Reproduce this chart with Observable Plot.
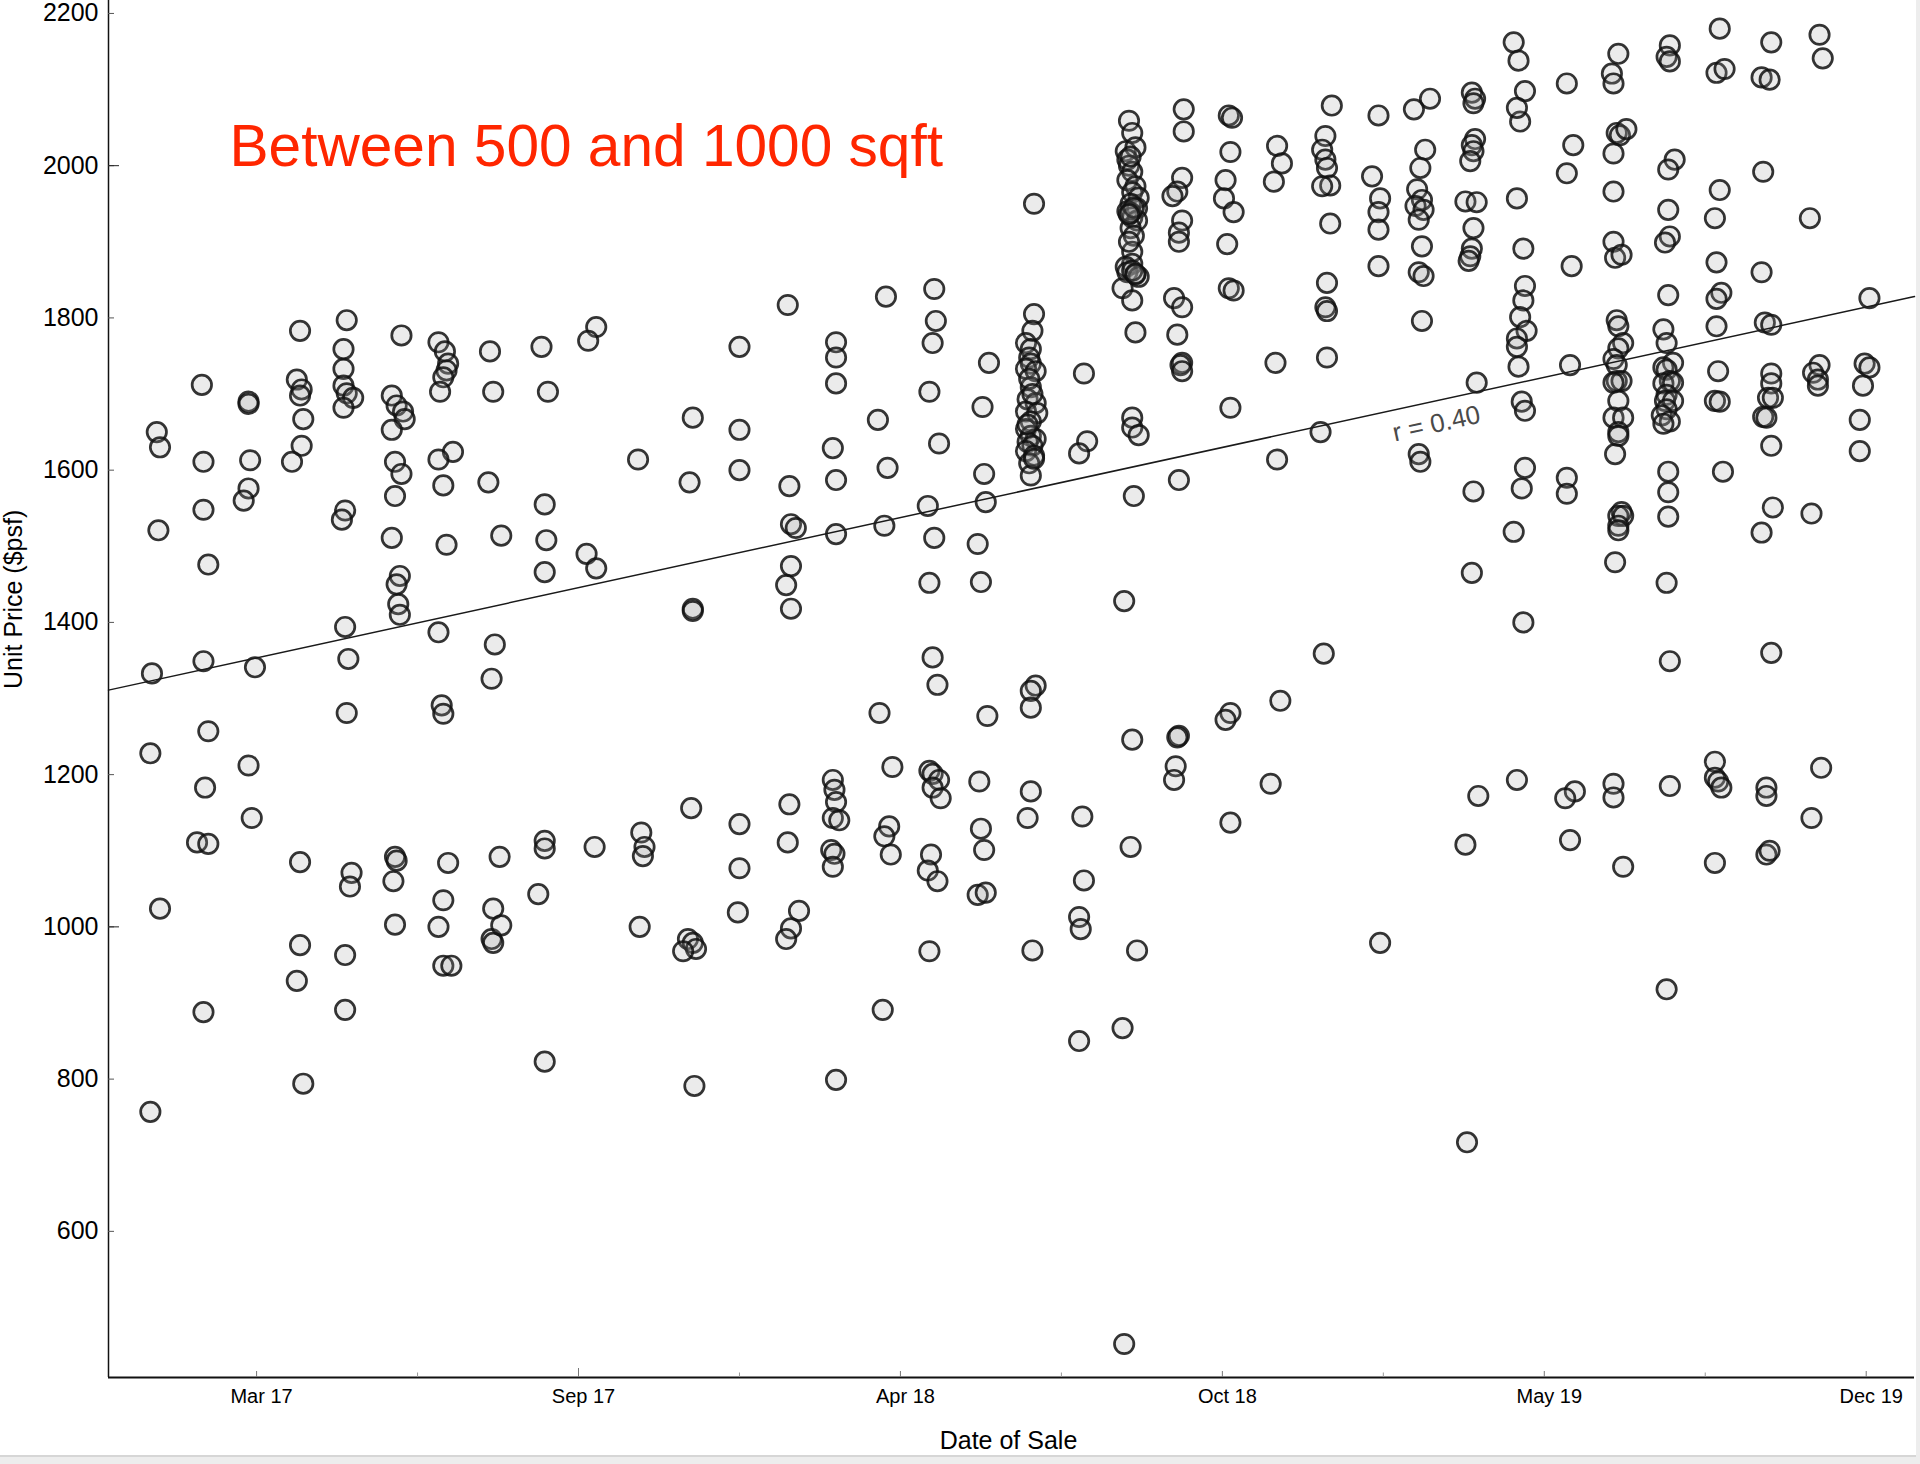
<!DOCTYPE html>
<html>
<head>
<meta charset="utf-8">
<script src="https://cdn.jsdelivr.net/npm/d3@7"></script>
<script src="https://cdn.jsdelivr.net/npm/@observablehq/plot@0.6"></script>
<style>
  html, body { margin: 0; padding: 0; background: #ededed; }
  #chart svg { display: block; background: #fff; border-bottom: 2px solid #d6d6d6; }
</style>
</head>
<body>
<div id="chart"></div>
<script>
// ---- Data ----
const titleText = "Between 500 and 1000 sqft";
const xLabel = "Date of Sale";
const yLabel = "Unit Price ($psf)";
const rLabel = "r = 0.40";

const saleMonths = [
  "2017-01","2017-02","2017-03","2017-04","2017-05","2017-06","2017-07","2017-08","2017-09","2017-10","2017-11","2017-12",
  "2018-01","2018-02","2018-03","2018-04","2018-05","2018-06","2018-07","2018-08","2018-09","2018-10","2018-11","2018-12",
  "2019-01","2019-02","2019-03","2019-04","2019-05","2019-06","2019-07","2019-08","2019-09","2019-10","2019-11","2019-12"
];

// day of month of each sale, per month
const saleDays = [
  [4,7,9,8,3,9,3],
  [4,5,5,8,5,8,6,1,8,5],
  [5,5,6,5,2,9,5,7],
  [6,4,7,6,8,7,1,6,6,4,8],
  [5,3,3,3,5,9,3,4,2,4,6,5,8,7,4,4],
  [8,2,5,9,10,2,4,8,4,2,7,5,6,7,4,5,3,4],
  [1,5,7,6,4,2,10,1,4,6,1,3,4,7,4,1,4,9],
  [2,4,1,9,5,3,4,3,4,9,8],
  [3,7,5,6,5,1,5,5,5],
  [7,2,1,7,6],
  [2,4,6,5,3],
  [6,4,6,6,5,3,6,8,0,7],
  [4,4,4,4,4,3],
  [3,4,5,8,5,2,5,4,3,5,10,2],
  [5,5,5,3,5,5,3,4,5,3,7,2,4,3,5],
  [5,0,6,4,1,9,7,4,8,3],
  [5,6,4,2,8,1,5,2,4,7,2,4,8,4,9,3,1,7,2],
  [8,4,5,6,1,3,7,2,3,5,1,6],
  [6,6,5,1,4,3,4,1,7,4,2,7,1,8,4,1,4,7,2,5,1,6,3,4,7,4,4,4,2,5,3,5,2,6],
  [6,8,3,5,6,3,4,3],
  [3,5,1,7,2,3,5,2,7,5,9,4,8,2,5,8,4,6,5,5,1,2,7,9,-1,5,7,5,5,9,6,0,5,4,8,-1,0,4,6,3,5,7,4,3],
  [7,7,6,3,0,6,4,4,1,6,3,6,5,6,4,4,3,2,1],
  [4,6,5,2,1,7,3,4,7,5,5,2,5],
  [4,7,2,3,4,6,0],
  [7,3,1,3,4,6,1,6,4,3,4,4,0,2],
  [5,1,6,5,5,5,6],
  [9,-1,6,3,1,4,0,5,2,4,2,5,4,2,3],
  [4,6,5,6,4,5,3,0,7,5,4,3,2,7,5,4,8,0,1],
  [0,3,7,4,2,2,6,7,6,4,8,2,2,3,5,7,7,5,0,6,2],
  [2,6,2,5,4,2,2,7,1,4],
  [4,0,1,3,5,9,1,1,1,2,6,3,4,7,4,1,3,3,6,1,4,1,7,4,4,2,6,4,7,4,4,2,1,1,7],
  [5,3,5,8,4,4,5,2,4,1,3,7,1,3,5,1,7,3,2,7,3,0,5,1,4,4,4,3,5,5,3],
  [5,3,8,5,2,3,6,3,3,4,2,5,7,2,2,4,6,2],
  [1,6,7,2,1,3,7,7,7,5,8,2,4,7,8,1,7,4,4,4,6],
  [6,8,0,6,2,5,5,1,7,1],
  [7,4,7,3,1,1]
];

// unit price ($psf) of each sale, per month (same order as saleDays)
const salePrices = [
  [1333,1650,1630,1521,1228,1024,757],
  [1712,1611,1548,1476,1349,1257,1183,1111,1109,888],
  [1690,1687,1613,1576,1560,1341,1212,1143],
  [1783,1719,1706,1698,1667,1632,1611,1085,976,929,794],
  [1797,1759,1733,1711,1701,1695,1682,1547,1535,1394,1352,1281,1071,1053,963,891],
  [1777,1698,1685,1677,1667,1653,1611,1595,1566,1511,1461,1450,1424,1410,1092,1087,1060,1003],
  [1768,1756,1740,1731,1722,1703,1624,1614,1580,1502,1387,1291,1280,1084,1035,1000,949,949],
  [1756,1703,1584,1514,1371,1326,1024,984,979,1002,1092],
  [1762,1703,1555,1508,1466,1043,1113,1103,823],
  [1788,1770,1490,1471,1105],
  [1614,1124,1105,1093,1000],
  [1669,1584,1418,1415,1156,984,979,971,968,791],
  [1762,1653,1600,1135,1077,1019],
  [1817,1579,1529,1524,1474,1449,1418,1161,1111,998,1021,984],
  [1768,1748,1714,1629,1587,1516,1193,1180,1164,1143,1140,1101,1096,1079,799],
  [1828,1666,1603,1527,1281,1210,1132,1119,1095,891],
  [1838,1796,1767,1703,1635,1553,1511,1452,1354,1318,1205,1201,1193,1183,1169,1095,1074,1060,968],
  [1741,1683,1595,1558,1503,1453,1277,1191,1129,1101,1042,1045],
  [1950,1805,1783,1767,1759,1748,1740,1733,1730,1709,1693,1688,1677,1675,1664,1654,1645,1641,1637,1632,1625,1619,1609,1593,1317,1310,1288,1178,1143,969,1720,1700,1660,1615],
  [1727,1638,1622,1145,1061,1013,997,850],
  [2059,2043,2019,2024,2008,2000,1992,1981,1973,1965,1958,1950,1944,1940,1932,1928,1918,1908,1887,1871,1867,1860,1857,1854,1839,1823,1781,1669,1656,1646,1566,1428,1246,1105,969,867,452,1938,1945,1936,1862,1858,2012,1900],
  [2074,2045,1984,1966,1960,1928,1912,1900,1826,1814,1778,1741,1738,1730,1587,1251,1249,1211,1193],
  [2066,2063,2018,1981,1957,1939,1897,1839,1836,1682,1281,1272,1137],
  [2026,2003,1979,1741,1614,1297,1188],
  [2079,2039,2021,2008,1997,1974,1973,1924,1846,1814,1809,1748,1650,1359],
  [2066,1986,1957,1939,1916,1868,979],
  [2088,2074,2021,1997,1969,1955,1947,1942,1929,1894,1860,1855,1796,1621,1611],
  [2096,2088,2082,2035,2027,2019,2006,1953,1952,1918,1891,1881,1875,1715,1572,1465,1172,1108,717],
  [2162,2138,2098,2058,2076,1957,1891,1842,1823,1801,1783,1773,1762,1736,1690,1678,1603,1576,1519,1400,1193],
  [2108,2027,1990,1868,1738,1590,1569,1178,1169,1114],
  [2147,2121,2108,2043,2040,2048,2016,1966,1900,1879,1883,1797,1789,1767,1760,1746,1738,1717,1717,1715,1691,1669,1669,1650,1645,1621,1545,1540,1540,1527,1521,1479,1188,1170,1079],
  [2158,2143,2137,2008,1995,1942,1907,1899,1830,1785,1767,1741,1735,1732,1717,1714,1715,1699,1691,1691,1680,1672,1664,1661,1598,1571,1539,1452,1349,1185,918],
  [2180,2122,2127,1968,1931,1873,1833,1825,1789,1730,1691,1690,1598,1217,1196,1191,1183,1084],
  [2116,2113,2162,1992,1860,1794,1791,1727,1714,1695,1695,1670,1669,1632,1551,1518,1360,1183,1172,1095,1100],
  [2172,2141,1931,1738,1728,1719,1711,1543,1209,1143],
  [1826,1740,1735,1711,1666,1625]
];

// trend line: price at the left and right edges of the plot
const fitPrices = [1311, 1828];

// axis ticks
const xTickDates = ["2017-03-10","2017-09-26","2018-04-14","2018-10-31","2019-05-19","2019-12-05"];
const xMinorTickDates = ["2017-06-18","2018-01-04","2018-07-23","2019-02-08","2019-08-27"];
const xLongTickDates = ["2017-09-26"];
const yTicks = [600, 800, 1000, 1200, 1400, 1600, 1800, 2000, 2200];
const yLongTicks = [1000, 2000];
const xDomainDates = ["2016-12-08", "2020-01-04"];
const yDomain = [408, 2217];
const rLabelDate = "2019-03-13";

// ---- Build table ----
const sales = [];
saleMonths.forEach((m, i) => {
  const [yy, mm] = m.split("-").map(Number);
  const n = Math.min(saleDays[i].length, salePrices[i].length);
  for (let j = 0; j < n; j++) {
    sales.push({date: new Date(Date.UTC(yy, mm - 1, saleDays[i][j])), price: salePrices[i][j]});
  }
});

const toDate = s => new Date(s + "T00:00:00Z");
const xDomain = xDomainDates.map(toDate);

// trend line
const fitLine = xDomain.map((d, i) => ({date: d, price: fitPrices[i]}));
const slope = (fitPrices[1] - fitPrices[0]) / (xDomain[1] - xDomain[0]);
const fit = t => fitPrices[0] + slope * (t - xDomain[0]);

// layout
const W = 1916, H = 1455;
const mL = 108, mR = 2, mT = 0, mB = 78;
const plotW = W - mL - mR, plotH = H - mT - mB;
const pxPerMs = plotW / (xDomain[1] - xDomain[0]);
const pxPerVal = plotH / (yDomain[1] - yDomain[0]);
const angle = -Math.atan(slope * pxPerVal / pxPerMs) * 180 / Math.PI;
const labelPoint = [{date: toDate(rLabelDate), price: fit(+toDate(rLabelDate))}];

const font = "'Liberation Sans', Arial, Helvetica, sans-serif";

const chart = Plot.plot({
  width: W,
  height: H,
  marginLeft: mL,
  marginRight: mR,
  marginTop: mT,
  marginBottom: mB,
  style: {fontFamily: font, background: "#fff", overflow: "visible", color: "#000"},
  x: {type: "utc", domain: xDomain, axis: null},
  y: {domain: yDomain, axis: null},
  marks: [
    // points
    Plot.dot(sales, {
      x: "date", y: "price", r: 9.7,
      fill: "#999", fillOpacity: 0.2,
      stroke: "#111", strokeOpacity: 0.85, strokeWidth: 2.7
    }),
    // trend line
    Plot.line(fitLine, {x: "date", y: "price", stroke: "#1a1a1a", strokeWidth: 1.5}),
    Plot.text(labelPoint, {
      x: "date", y: "price", text: () => rLabel, rotate: angle,
      dy: 23, fontSize: 26, fill: "#4a4a4a", textAnchor: "middle", lineAnchor: "middle"
    }),
    // axis lines
    Plot.ruleX([xDomain[0]], {stroke: "#111", strokeWidth: 1.5}),
    Plot.ruleY([yDomain[0]], {stroke: "#111", strokeWidth: 2}),
    // y ticks (inward) and labels
    Plot.axisY(yTicks, {anchor: "left", tickSize: 6, dx: 6, fill: "none", stroke: "#555", label: null}),
    Plot.axisY(yLongTicks, {anchor: "left", tickSize: 11, dx: 11, fill: "none", stroke: "#222", label: null}),
    Plot.axisY(yTicks, {anchor: "left", tickSize: 0, tickPadding: 10, fontSize: 25, fill: "#000", tickFormat: d => String(d), label: null}),
    // x ticks (inward) and labels
    Plot.axisX(xTickDates.map(toDate), {anchor: "bottom", tickSize: 6, dy: -6, fill: "none", stroke: "#777", label: null}),
    Plot.axisX(xLongTickDates.map(toDate), {anchor: "bottom", tickSize: 9, dy: -9, fill: "none", stroke: "#777", label: null}),
    Plot.axisX(xMinorTickDates.map(toDate), {anchor: "bottom", tickSize: 4.5, dy: -4.5, fill: "none", stroke: "#999", label: null}),
    Plot.axisX(xTickDates.map(toDate), {anchor: "bottom", tickSize: 0, tickPadding: 11, dx: 5, fontSize: 20, fill: "#000", tickFormat: d3.utcFormat("%b %y"), label: null}),
    // axis titles
    Plot.text([xLabel], {frameAnchor: "bottom", text: d => d, dx: -3, dy: 63, fontSize: 25, fill: "#000", lineAnchor: "middle"}),
    Plot.text([yLabel], {frameAnchor: "left", text: d => d, rotate: -90, dx: -95, fontSize: 25, fill: "#000", lineAnchor: "middle"}),
    // in-plot title
    Plot.text([titleText], {
      frameAnchor: "top-left", text: d => d, dx: 121, dy: 165,
      fontSize: 58.6, fill: "#ff2600", textAnchor: "start", lineAnchor: "bottom"
    })
  ]
});

document.getElementById("chart").appendChild(chart);
</script>
</body>
</html>
